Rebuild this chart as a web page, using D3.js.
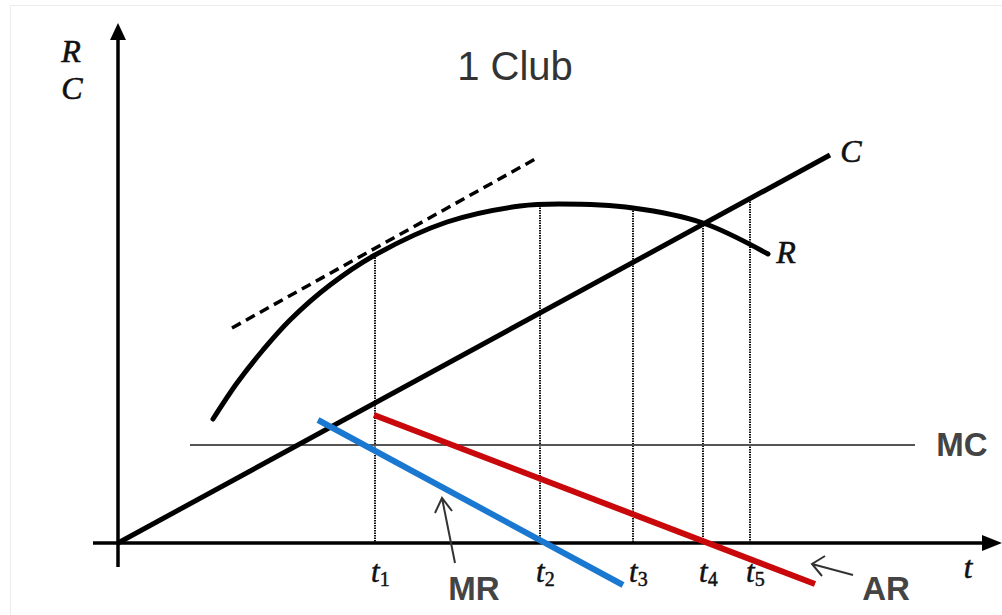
<!DOCTYPE html>
<html>
<head>
<meta charset="utf-8">
<script src="https://cdn.jsdelivr.net/npm/d3@7"></script>
<style>
  body { margin: 0; background: #fff; }
  .serif { font-family: "Liberation Serif", "DejaVu Serif", serif; font-style: italic; fill: #111; }
  .sans { font-family: "Liberation Sans", Arial, sans-serif; }
</style>
</head>
<body>
<div id="chart"></div>
<script>
// Values (t on the horizontal axis, R/C on the vertical)
const revT = [9.5, 11.9, 14.5, 17.2, 21.2, 25.7, 32.9, 40.2, 44.2, 51.5, 58.5, 65.0];
const revV = [12.4, 16.0, 19.3, 22.3, 25.8, 28.8, 32.1, 33.7, 33.9, 33.5, 32.0, 28.9];

const costT = [0, 71.2];
const costV = [0, 38.8];

const tangentT = [11.4, 41.9];
const tangentV = [21.5, 38.5];

const mrT = [20.0, 50.5];
const mrV = [12.3, -4.2];

const arT = [25.6, 69.7];
const arV = [12.8, -4.1];

const mcT = [7.2, 79.7];
const mcV = 9.8;

const tickT = [25.7, 42.2, 51.5, 58.5, 63.2];
const tickTop = [28.8, 33.8, 33.5, 32.0, 34.4];
const tickSub = ["1", "2", "3", "4", "5"];

const width = 1002;
const height = 615;

const x = d3.scaleLinear().domain([0, 88]).range([118, 998]);
const y = d3.scaleLinear().domain([0, 52]).range([543, 23]);

const svg = d3.select("#chart").append("svg")
    .attr("width", width)
    .attr("height", height);

// faint frame of the original picture
svg.append("rect")
    .attr("x", 10.5).attr("y", 5.5)
    .attr("width", 1000).attr("height", 620)
    .attr("fill", "none")
    .attr("stroke", "#ececec");

const line = d3.line().x(d => x(d[0])).y(d => y(d[1]));

// Title
svg.append("text")
    .attr("class", "sans")
    .attr("x", 515).attr("y", 80)
    .attr("text-anchor", "middle")
    .attr("font-size", 40)
    .attr("fill", "#333")
    .text("1 Club");

// dotted verticals
svg.append("g").selectAll("line")
    .data(tickT)
    .join("line")
    .attr("x1", d => x(d)).attr("x2", d => x(d))
    .attr("y1", (d, i) => y(tickTop[i]))
    .attr("y2", y(0))
    .attr("stroke", "#111")
    .attr("stroke-width", 2)
    .attr("stroke-dasharray", "1.5,1");

// MC line
svg.append("path")
    .attr("d", line(mcT.map(t => [t, mcV])))
    .attr("stroke", "#555")
    .attr("stroke-width", 2)
    .attr("fill", "none");

// axes
svg.append("line")
    .attr("x1", x(-2.5)).attr("x2", x(87))
    .attr("y1", y(0)).attr("y2", y(0))
    .attr("stroke", "#000").attr("stroke-width", 3.5);
svg.append("path")
    .attr("d", `M${x(88.4)},${y(0)} L${x(86.4)},${y(0) - 8} L${x(86.4)},${y(0) + 8} Z`)
    .attr("fill", "#000");

svg.append("line")
    .attr("x1", x(0)).attr("x2", x(0))
    .attr("y1", y(-2.4)).attr("y2", y(50.5))
    .attr("stroke", "#000").attr("stroke-width", 3.5);
svg.append("path")
    .attr("d", `M${x(0)},${y(52)} L${x(0) - 8},${y(50.3)} L${x(0) + 8},${y(50.3)} Z`)
    .attr("fill", "#000");

// tangent
svg.append("path")
    .attr("d", line(d3.zip(tangentT, tangentV)))
    .attr("stroke", "#000")
    .attr("stroke-width", 3.5)
    .attr("stroke-dasharray", "10,6")
    .attr("fill", "none");

// revenue curve
svg.append("path")
    .attr("d", d3.line().x(d => x(d[0])).y(d => y(d[1])).curve(d3.curveCatmullRom)(d3.zip(revT, revV)))
    .attr("stroke", "#000")
    .attr("stroke-width", 5)
    .attr("stroke-linecap", "round")
    .attr("fill", "none");

// cost line
svg.append("path")
    .attr("d", line(d3.zip(costT, costV)))
    .attr("stroke", "#000")
    .attr("stroke-width", 5)
    .attr("fill", "none");

// MR and AR
svg.append("path")
    .attr("d", line(d3.zip(mrT, mrV)))
    .attr("stroke", "#1a78d0")
    .attr("stroke-width", 6)
    .attr("fill", "none");
svg.append("path")
    .attr("d", line(d3.zip(arT, arV)))
    .attr("stroke", "#c8080a")
    .attr("stroke-width", 6)
    .attr("fill", "none");

// pointer arrows for MR and AR
svg.append("path")
    .attr("d", "M455,563 L442,498 M435,513 L442,498 L452,511")
    .attr("stroke", "#333").attr("stroke-width", 2).attr("fill", "none");
svg.append("path")
    .attr("d", "M853,575 L812,564 M825,556 L812,564 L822,576")
    .attr("stroke", "#333").attr("stroke-width", 2).attr("fill", "none");

// italic serif labels
const serif = [
    { text: "R", x: 71, y: 62, size: 32 },
    { text: "C", x: 72, y: 99, size: 32 },
    { text: "C", x: 851, y: 162, size: 32 },
    { text: "R", x: 786, y: 263, size: 32 },
    { text: "t", x: 968, y: 578, size: 31 }
];
svg.append("g").selectAll("text")
    .data(serif)
    .join("text")
    .attr("class", "serif")
    .attr("x", d => d.x).attr("y", d => d.y)
    .attr("text-anchor", "middle")
    .attr("font-size", d => d.size)
    .attr("stroke", "#111")
    .attr("stroke-width", 0.6)
    .text(d => d.text);

// t subscript labels
const tl = svg.append("g").selectAll("text")
    .data(tickT)
    .join("text")
    .attr("class", "serif")
    .attr("x", d => x(d) - 4)
    .attr("y", 582)
    .attr("font-size", 31)
    .attr("stroke", "#111")
    .attr("stroke-width", 0.5);
tl.append("tspan").text("t");
tl.append("tspan")
    .attr("font-size", 20)
    .attr("font-style", "normal")
    .attr("dy", 4)
    .text((d, i) => tickSub[i]);

// bold sans labels
const bold = [
    { text: "MC", x: 962, y: 456 },
    { text: "MR", x: 474, y: 600 },
    { text: "AR", x: 886, y: 600 }
];
svg.append("g").selectAll("text")
    .data(bold)
    .join("text")
    .attr("class", "sans")
    .attr("x", d => d.x).attr("y", d => d.y)
    .attr("text-anchor", "middle")
    .attr("font-size", 33)
    .attr("font-weight", "bold")
    .attr("fill", "#444")
    .text(d => d.text);
</script>
</body>
</html>
